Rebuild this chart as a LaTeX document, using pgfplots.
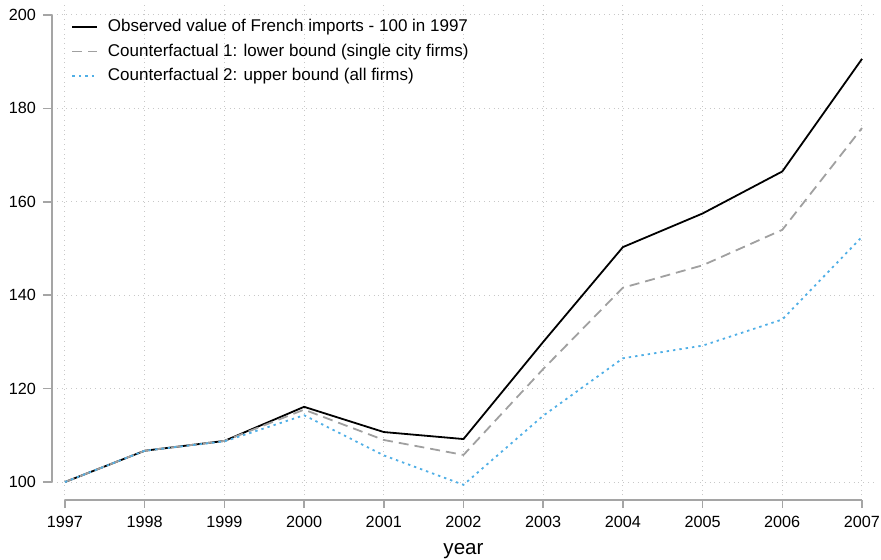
\documentclass[border=0pt]{standalone}
\usepackage{pgfplots}
\pgfplotsset{compat=1.18}
\usepackage{fontspec}
\setmainfont{Liberation Sans}
\definecolor{axgray}{RGB}{165,165,165}
\definecolor{gridgray}{RGB}{200,200,200}
\definecolor{cfgray}{RGB}{160,160,160}
\definecolor{cfblue}{RGB}{80,175,230}
\begin{document}
\begin{tikzpicture}
\begin{axis}[
  scale only axis,
  clip=false,
  width=411.5pt, height=247.5pt,
  xmin=1996.837, xmax=2007.163,
  ymin=96.15, ymax=202.14,
  axis lines*=left,
  axis line style={draw=none},
  xtick={1997,...,2007},
  ytick={100,120,...,200},
  xticklabel style={/pgf/number format/1000 sep={}},
  /pgf/number format/assume math mode=true,
  tick label style={font=\fontsize{8.1}{9}\selectfont, black},
  tick align=outside,
  major tick length=4.5pt,
  tick style={draw=none},
  grid=major,
  major grid style={draw=gridgray, dotted, line width=0.5pt},
  xlabel={year},
  xlabel style={font=\fontsize{10.3}{12}\selectfont, yshift=-1pt},
  legend cell align=left,
  legend style={draw=none, fill=none, at={(0.016,0.988)}, anchor=north west,
    font=\fontsize{8.5}{10}\selectfont, row sep=0.6pt,
    /tikz/every odd column/.append style={column sep=2.8pt}},
  legend image code/.code={\draw[#1] (0pt,0pt) -- (12.5pt,0pt);},
  unbounded coords=jump,
]
% axis lines and ticks (Stata-style, detached)
\addplot[axgray, line width=0.8pt, forget plot] coordinates {
(1996.837,100) (1996.837,200) (1996.8,nan)
(1996.724,100) (1996.837,100) (1996.8,nan)
(1996.724,120) (1996.837,120) (1996.8,nan)
(1996.724,140) (1996.837,140) (1996.8,nan)
(1996.724,160) (1996.837,160) (1996.8,nan)
(1996.724,180) (1996.837,180) (1996.8,nan)
(1996.724,200) (1996.837,200)};
\addplot[axgray, line width=0.8pt, forget plot] coordinates {
(1997,96.15) (2007,96.15) (2007,nan)
(1997,94.4) (1997,96.15) (1997,nan)
(1998,94.4) (1998,96.15) (1998,nan)
(1999,94.4) (1999,96.15) (1999,nan)
(2000,94.4) (2000,96.15) (2000,nan)
(2001,94.4) (2001,96.15) (2001,nan)
(2002,94.4) (2002,96.15) (2002,nan)
(2003,94.4) (2003,96.15) (2003,nan)
(2004,94.4) (2004,96.15) (2004,nan)
(2005,94.4) (2005,96.15) (2005,nan)
(2006,94.4) (2006,96.15) (2006,nan)
(2007,94.4) (2007,96.15)};
\addplot[black, line width=0.9pt] coordinates {
(1997,100) (1998,106.7) (1999,108.8) (2000,116.1) (2001,110.7) (2002,109.2)
(2003,130.0) (2004,150.3) (2005,157.5) (2006,166.5) (2007,190.6)};
\addlegendentry{Observed value of French imports - 100 in 1997}
\addplot[cfgray, line width=0.9pt, dash pattern=on 5pt off 3pt] coordinates {
(1997,100) (1998,106.7) (1999,108.8) (2000,115.5) (2001,109.0) (2002,105.8)
(2003,124.2) (2004,141.6) (2005,146.4) (2006,154.0) (2007,175.8)};
\addlegendentry{Counterfactual 1: lower bound (single city firms)}
\addplot[cfblue, line width=0.9pt, dash pattern=on 1.2pt off 2pt] coordinates {
(1997,100) (1998,106.7) (1999,108.7) (2000,114.3) (2001,105.7) (2002,99.4)
(2003,114.2) (2004,126.5) (2005,129.2) (2006,134.8) (2007,152.5)};
\addlegendentry{Counterfactual 2: upper bound (all firms)}
\end{axis}
\pgfresetboundingbox
\path ([shift={(-26pt,-30pt)}]current axis.south west) rectangle ([shift={(414.5pt,250pt)}]current axis.south west);
\end{tikzpicture}
\end{document}
